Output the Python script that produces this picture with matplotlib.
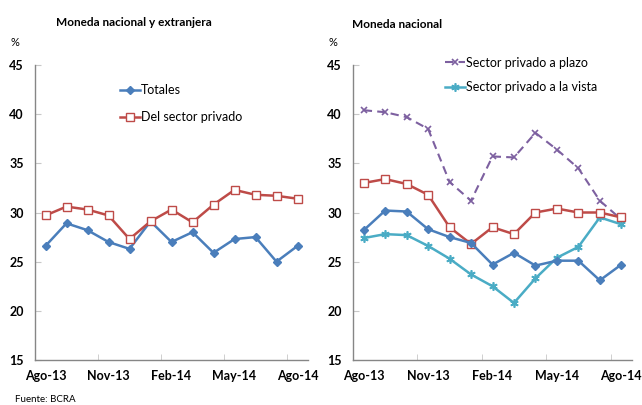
import numpy as np
import matplotlib
matplotlib.use("Agg")
import matplotlib.pyplot as plt
from matplotlib.ticker import FixedLocator, NullFormatter

plt.rcParams['font.family'] = ['Lato', 'DejaVu Sans']

meses = ['Ago-13', 'Sep-13', 'Oct-13', 'Nov-13', 'Dic-13', 'Ene-14', 'Feb-14',
         'Mar-14', 'Abr-14', 'May-14', 'Jun-14', 'Jul-14', 'Ago-14']

# Moneda nacional y extranjera
totales_me = [26.6, 28.9, 28.2, 27.0, 26.3, 29.1, 27.0, 28.0, 25.9, 27.3, 27.5, 25.0, 26.6]
privado_me = [29.7, 30.6, 30.3, 29.7, 27.3, 29.1, 30.3, 29.0, 30.8, 32.3, 31.8, 31.7, 31.4]

# Moneda nacional
totales_mn = [28.2, 30.2, 30.1, 28.3, 27.5, 26.9, 24.7, 25.9, 24.6, 25.1, 25.1, 23.1, 24.7]
privado_mn = [33.0, 33.4, 32.9, 31.8, 28.5, 26.8, 28.5, 27.8, 30.0, 30.4, 30.0, 30.0, 29.5]
plazo_mn = [40.4, 40.2, 39.7, 38.5, 33.1, 31.2, 35.7, 35.6, 38.1, 36.4, 34.5, 31.2, 29.3]
vista_mn = [27.4, 27.8, 27.7, 26.6, 25.3, 23.7, 22.5, 20.8, 23.3, 25.4, 26.5, 29.5, 28.8]

azul = '#4A7EBB'
rojo = '#BE4B48'
violeta = '#7D60A0'
celeste = '#4AACC5'
gris = '#868686'

x = np.arange(len(meses))

fig = plt.figure(figsize=(6.42, 4.05), dpi=100)
ax1 = fig.add_axes([35 / 642, 45 / 405, 273 / 642, 295 / 405])
ax2 = fig.add_axes([353 / 642, 45 / 405, 279 / 642, 295 / 405])


def formato(ax):
    ax.set_xlim(-0.5, len(meses) - 0.5)
    ax.set_ylim(15, 45)
    ax.set_yticks(range(15, 46, 5))
    for s in ['top', 'right']:
        ax.spines[s].set_visible(False)
    for s in ['left', 'bottom']:
        ax.spines[s].set_color(gris)
        ax.spines[s].set_linewidth(1.0)
    ax.tick_params(axis='y', direction='in', length=4, color='#C8C8C8',
                   pad=8, labelsize=9)
    ax.set_xticks(x[::3])
    ax.set_xticklabels(meses[::3])
    ax.tick_params(axis='x', which='major', length=0, pad=7, labelsize=9)
    ax.xaxis.set_minor_locator(FixedLocator([2.5, 5.5, 8.5, 11.5]))
    ax.xaxis.set_minor_formatter(NullFormatter())
    ax.tick_params(axis='x', which='minor', direction='in', length=4, color='#C8C8C8')
    for lab in ax.get_xticklabels() + ax.get_yticklabels():
        lab.set_fontweight('bold')


formato(ax1)
formato(ax2)

ax1.plot(x, totales_me, color=azul, lw=1.8, marker='D', ms=4.5, label='Totales')
ax1.plot(x, privado_me, color=rojo, lw=1.8, marker='s', ms=6, mfc='white',
         mec=rojo, mew=1.0, label='Del sector privado')
ax1.legend(loc='upper left', bbox_to_anchor=(0.27, 0.974), frameon=False,
           fontsize=9, handlelength=1.6, handletextpad=0.1, labelspacing=1.22)

l_plazo, = ax2.plot(x, plazo_mn, color=violeta, lw=1.5, ls=(0, (4, 2.5)), marker='x',
                    ms=5, mew=1.2, label='Sector privado a plazo')
l_vista, = ax2.plot(x, vista_mn, color=celeste, lw=1.8, marker=(6, 2, 0), ms=6,
                    mew=1.2, label='Sector privado a la vista')
ax2.plot(x, privado_mn, color=rojo, lw=1.8, marker='s', ms=6, mfc='white',
         mec=rojo, mew=1.0, zorder=3)
ax2.plot(x, totales_mn, color=azul, lw=1.8, marker='D', ms=4.5, zorder=4)
ax2.legend(handles=[l_plazo, l_vista], loc='upper left', bbox_to_anchor=(0.29, 1.066),
           frameon=False, fontsize=9, handlelength=1.6, handletextpad=0.1,
           labelspacing=0.98)

fig.text(134 / 642, 1 - 22 / 405, 'Moneda nacional y extranjera', ha='center',
         va='center', fontsize=8.5, fontweight='bold')
fig.text(397 / 642, 1 - 24 / 405, 'Moneda nacional', ha='center', va='center',
         fontsize=8.5, fontweight='bold')
fig.text(15 / 642, 1 - 43 / 405, '%', ha='center', va='center', fontsize=8)
fig.text(333 / 642, 1 - 43 / 405, '%', ha='center', va='center', fontsize=8)
fig.text(15 / 642, 1 - 400 / 405, 'Fuente: BCRA', ha='left', va='center', fontsize=7)

fig.savefig('out.png', dpi=100)
